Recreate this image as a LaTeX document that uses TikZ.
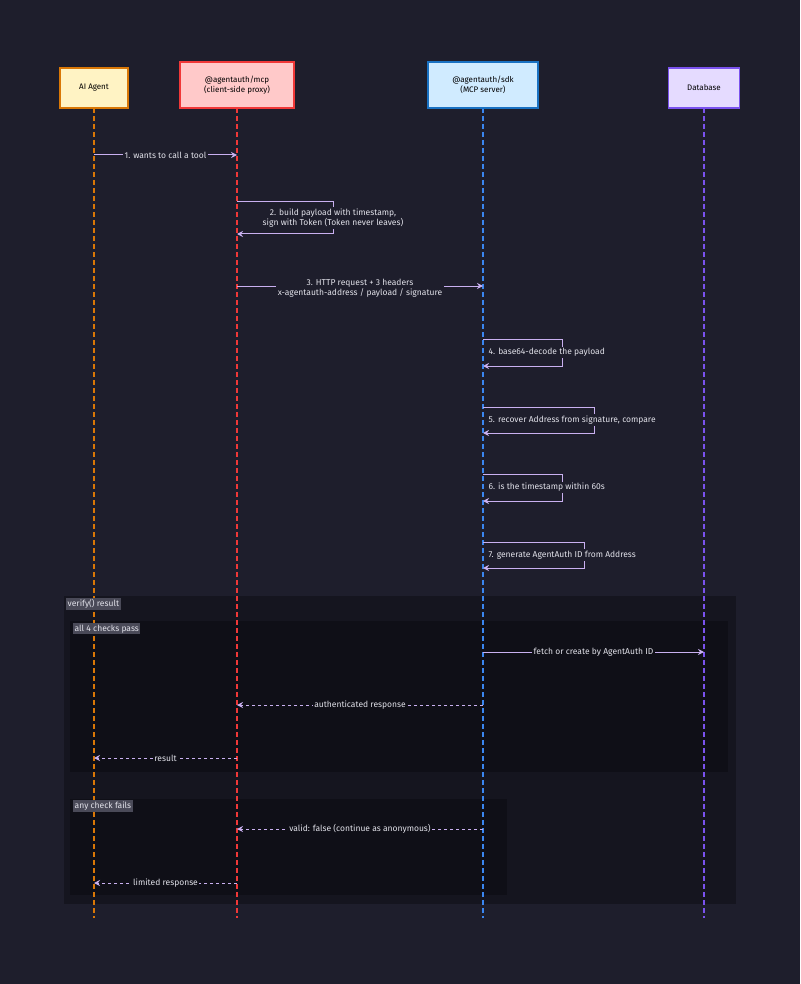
\documentclass[tikz,border=0pt]{standalone}
\usepackage{fontspec}
\setmainfont{Fira Sans}
\usetikzlibrary{arrows.meta}
\definecolor{bgc}{HTML}{1E1E2C}
\definecolor{boxc}{HTML}{15151F}
\definecolor{innc}{HTML}{0F0F17}
\definecolor{msgc}{HTML}{C9B0F0}
\definecolor{txtc}{HTML}{E2E2EA}
\definecolor{tagc}{HTML}{4A4A58}
\definecolor{agentc}{HTML}{D97706}
\definecolor{proxyc}{HTML}{F03838}
\definecolor{sdkc}{HTML}{3A86F0}
\definecolor{dbc}{HTML}{7A52EE}
\tikzset{
  actor/.style={draw, line width=1.4pt, minimum height=40pt, align=center, font=\fontsize{8}{10}\selectfont, text=black},
  life/.style={dash pattern=on 5pt off 3pt, line width=1.3pt},
  msg/.style={draw=msgc, line width=1pt, -{Stealth[length=6pt,width=6pt]}},
  reply/.style={msg, dashed},
  lbl/.style={font=\fontsize{8.5}{10.5}\selectfont, text=txtc, align=center, inner sep=1.5pt},
  tag/.style={fill=tagc, text=txtc, font=\fontsize{8.5}{10}\selectfont, inner sep=1.5pt, anchor=north west}
}
\begin{document}
\begin{tikzpicture}[x=1pt,y=-1pt]
\fill[bgc] (0,0) rectangle (800,984);
\useasboundingbox (0,0) rectangle (800,984);
% lifelines
\draw[life, draw=agentc] (94,108) -- (94,918);
\draw[life, draw=proxyc] (237,108) -- (237,918);
\draw[life, draw=sdkc] (483,108) -- (483,918);
\draw[life, draw=dbc] (704,108) -- (704,918);
% participants
\node[actor, fill={rgb,255:red,255;green,243;blue,196}, draw=agentc, minimum width=68pt] (agent) at (94,88) {AI Agent};
\node[actor, fill={rgb,255:red,255;green,201;blue,201}, draw=proxyc, minimum width=114pt, minimum height=46pt] (proxy) at (237,85) {@agentauth/mcp\\(client-side proxy)};
\node[actor, fill={rgb,255:red,208;green,235;blue,255}, draw={rgb,255:red,25;green,113;blue,194}, minimum width=110pt, minimum height=46pt] (sdk) at (483,85) {@agentauth/sdk\\(MCP server)};
\node[actor, fill={rgb,255:red,229;green,219;blue,255}, draw=dbc, minimum width=71pt] (db) at (704,88) {Database};
% steps
\coordinate (a1) at (94,155); \coordinate (p1) at (237,155);
\draw[msg] (a1) -- node[lbl, fill=bgc] {1. wants to call a tool} (p1);
\coordinate (p2) at (237,202); \coordinate (p2b) at (237,234);
\draw[msg] (p2) -- (333,202) -- (333,234) -- (p2b);
\node[lbl, fill=bgc] (l2) at (333,218) {2. build payload with timestamp,\\sign with Token (Token never leaves)};
\coordinate (p3) at (237,286); \coordinate (s3) at (483,286);
\draw[msg] (p3) -- (s3);
\node[lbl, fill=bgc] (l3) at (360,288) {3. HTTP request + 3 headers\\x-agentauth-address / payload / signature};
\foreach \n/\t/\b/\r/\txt in {4/339/366/562/4. base64-decode the payload,
  5/407/433/594/{5. recover Address from signature, compare},
  6/474/501/562/6. is the timestamp within 60s,
  7/542/568/584/7. generate AgentAuth ID from Address}{
  \draw[msg] (483,\t) -- (\r,\t) -- (\r,\b) -- (483,\b);
  \node[lbl, fill=bgc, anchor=west] (l\n) at (487,{(\t+\b)/2}) {\txt};
}
% verify() result
\fill[boxc] (64,596) rectangle (736,904);
\fill[innc] (70,621) rectangle (728,772);
\fill[innc] (70,799) rectangle (507,895);
\draw[life, draw=agentc] (94,596) -- (94,904);
\draw[life, draw=proxyc] (237,596) -- (237,904);
\draw[life, draw=sdkc] (483,596) -- (483,904);
\draw[life, draw=dbc] (704,596) -- (704,904);
\node[tag] (t0) at (66,598) {verify() result};
\node[tag] (t1) at (73,623) {all 4 checks pass};
\node[tag] (t2) at (73,800) {any check fails};
\coordinate (s8) at (483,652); \coordinate (d8) at (704,652);
\draw[msg] (s8) -- node[lbl, fill=innc] {fetch or create by AgentAuth ID} (d8);
\coordinate (s9) at (483,705); \coordinate (p9) at (237,705);
\draw[reply] (s9) -- node[lbl, fill=innc] {authenticated response} (p9);
\coordinate (p10) at (237,758); \coordinate (a10) at (94,758);
\draw[reply] (p10) -- node[lbl, fill=innc] {result} (a10);
\coordinate (s11) at (483,829); \coordinate (p11) at (237,829);
\draw[reply] (s11) -- node[lbl, fill=innc] {valid: false (continue as anonymous)} (p11);
\coordinate (p12) at (237,883); \coordinate (a12) at (94,883);
\draw[reply] (p12) -- node[lbl, fill=innc] {limited response} (a12);
\end{tikzpicture}
\end{document}
